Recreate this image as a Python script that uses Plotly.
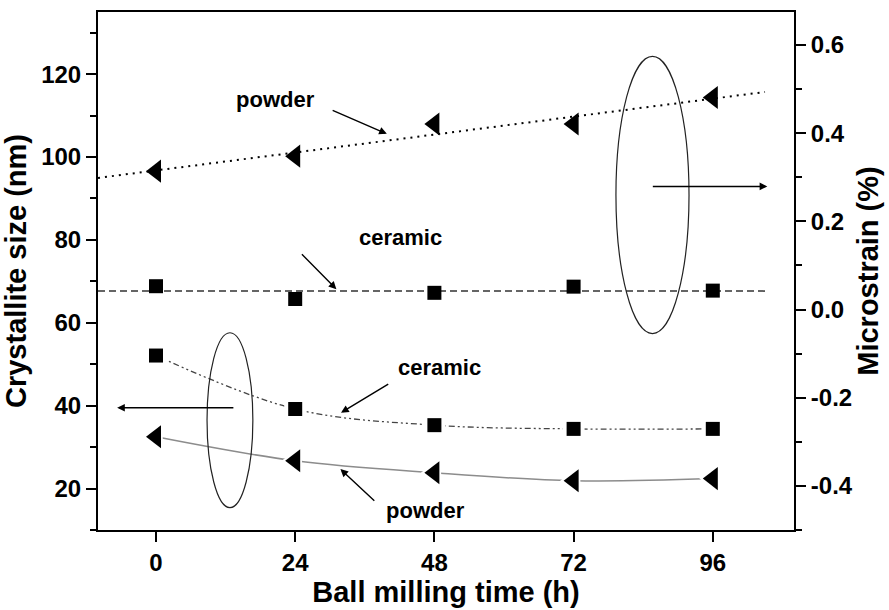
import numpy as np
import plotly.graph_objects as go

# Ball milling time (h)
time_h = [0, 24, 48, 72, 96]

# Crystallite size (nm), left axis
size_ceramic = [52.1, 39.2, 35.3, 34.4, 34.4]
size_powder = [32.5, 26.7, 23.8, 21.9, 22.4]

# Microstrain (%), right axis
strain_powder = [0.314, 0.348, 0.421, 0.421, 0.481]
strain_ceramic = [0.053, 0.024, 0.038, 0.052, 0.043]

# tick labels of the microstrain axis (plain hyphen minus)
strain_ticks = [-0.4, -0.2, 0.0, 0.2, 0.4, 0.6]
strain_ticktext = ["-0.4", "-0.2", "0.0", "0.2", "0.4", "0.6"]

# extent of the fitted microstrain lines
fit_span = [-10, 105]

FONT = "Liberation Sans, Arial, sans-serif"

fig = go.Figure()

# linear fit of powder microstrain (dotted)
p = np.polyfit(time_h, strain_powder, 1)
fx = np.array(fit_span, dtype=float)
fig.add_trace(go.Scatter(x=fx, y=np.polyval(p, fx), mode="lines", yaxis="y2",
                         line=dict(color="black", width=2, dash="2px,5px"),
                         hoverinfo="skip", showlegend=False))
fig.add_trace(go.Scatter(x=time_h, y=strain_powder, mode="markers", yaxis="y2",
                         marker=dict(symbol="triangle-left", size=20, color="black"),
                         showlegend=False, name="powder microstrain"))

# mean level of ceramic microstrain (dashed)
mean_c = float(np.mean(strain_ceramic))
fig.add_trace(go.Scatter(x=fx, y=[mean_c, mean_c], mode="lines", yaxis="y2",
                         line=dict(color="#333333", width=1.5, dash="7px,4px"),
                         hoverinfo="skip", showlegend=False))
fig.add_trace(go.Scatter(x=time_h, y=strain_ceramic, mode="markers", yaxis="y2",
                         marker=dict(symbol="square", size=14, color="black"),
                         showlegend=False, name="ceramic microstrain"))

# crystallite size of ceramic (dash-dot-dot curve)
fig.add_trace(go.Scatter(x=time_h, y=size_ceramic, mode="lines", line_shape="spline",
                         line=dict(color="#444444", width=1.3, dash="6px,3px,2px,3px,2px,3px"),
                         hoverinfo="skip", showlegend=False))
# crystallite size of powder (thin grey curve)
fig.add_trace(go.Scatter(x=time_h, y=size_powder, mode="lines", line_shape="spline",
                         line=dict(color="#8c8c8c", width=1.5),
                         hoverinfo="skip", showlegend=False))
# white halo so the curves stop short of the symbols
fig.add_trace(go.Scatter(x=time_h, y=size_ceramic, mode="markers",
                         marker=dict(symbol="square", size=22, color="white"),
                         hoverinfo="skip", showlegend=False))
fig.add_trace(go.Scatter(x=time_h, y=size_powder, mode="markers",
                         marker=dict(symbol="triangle-left", size=27, color="white"),
                         hoverinfo="skip", showlegend=False))
fig.add_trace(go.Scatter(x=time_h, y=size_ceramic, mode="markers",
                         marker=dict(symbol="square", size=14, color="black"),
                         showlegend=False, name="ceramic size"))
fig.add_trace(go.Scatter(x=time_h, y=size_powder, mode="markers",
                         marker=dict(symbol="triangle-left", size=20, color="black"),
                         showlegend=False, name="powder size"))

# labels and arrows
txt = dict(family=FONT, size=22, color="black", weight="bold")
labels = [
    ("powder", 20.6, 113.8),
    ("ceramic", 42.2, 80.5),
    ("ceramic", 48.8, 49.1),
    ("powder", 46.4, 14.7),
]
for t, x, y in labels:
    fig.add_annotation(x=x, y=y, text=t, showarrow=False, font=txt, xref="x", yref="y")

arrows = [
    # (tail x, tail y, head x, head y)
    (30.2, 111.4, 39.8, 105.6),
    (24.9, 76.9, 31.1, 68.1),
    (40.3, 45.4, 31.9, 38.3),
    (37.9, 16.7, 31.8, 24.7),
    (13.6, 39.5, -6.7, 39.5),
    (85.4, 92.9, 105.4, 92.9),
]
for tx, ty, hx, hy in arrows:
    fig.add_annotation(x=hx, y=hy, ax=tx, ay=ty, xref="x", yref="y",
                       axref="x", ayref="y", text="", showarrow=True,
                       arrowhead=2, arrowsize=1.1, arrowwidth=1.4, arrowcolor="black")

# ellipses grouping series with their axis
fig.add_shape(type="circle", xref="x", yref="y", x0=8.8, x1=16.7, y0=15.4, y1=57.6,
              line=dict(color="#222222", width=1.2))
fig.add_shape(type="circle", xref="x", yref="y", x0=79.3, x1=91.9, y0=57.4, y1=124.3,
              line=dict(color="#222222", width=1.2))

tick_font = dict(family=FONT, size=24, color="black", weight="bold")
title_font = dict(family=FONT, size=29, color="black", weight="bold")

fig.update_layout(
    width=889, height=610,
    margin=dict(l=98, r=91, t=10, b=80),
    paper_bgcolor="white", plot_bgcolor="white",
    showlegend=False,
    xaxis=dict(range=[-10, 110], tickvals=time_h, ticks="outside", ticklen=10, tickwidth=2,
               tickcolor="black", showline=True, linecolor="black", linewidth=2, mirror=True,
               showgrid=False, zeroline=False, tickfont=tick_font,
               title=dict(text="Ball milling time (h)", font=title_font, standoff=4)),
    yaxis=dict(range=[10, 135], tick0=0, dtick=20, ticks="outside", ticklen=10, tickwidth=2,
               tickcolor="black", showline=True, linecolor="black", linewidth=2,
               showgrid=False, zeroline=False, tickfont=tick_font,
               minor=dict(dtick=10, ticklen=6, tickwidth=2, tickcolor="black", ticks="outside"),
               title=dict(text="Crystallite size (nm)", font=title_font, standoff=6)),
    yaxis2=dict(range=[-0.5, 0.675], overlaying="y", side="right",
                tickvals=strain_ticks, ticktext=strain_ticktext,
                ticks="outside", ticklen=10, tickwidth=2, tickcolor="black",
                showline=True, linecolor="black", linewidth=2, showgrid=False, zeroline=False,
                tickfont=tick_font,
                minor=dict(dtick=0.1, ticklen=6, tickwidth=2, tickcolor="black", ticks="outside"),
                title=dict(text="Microstrain (%)", font=title_font, standoff=6)),
)

fig.write_html("out.html")
